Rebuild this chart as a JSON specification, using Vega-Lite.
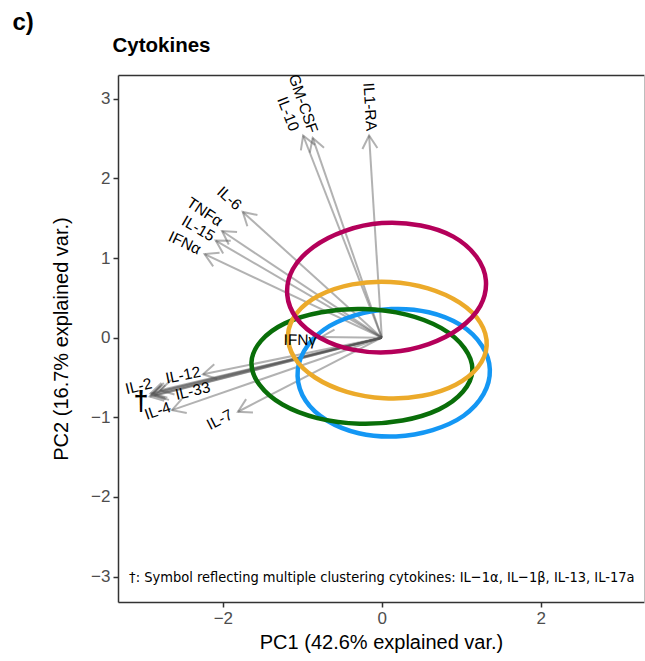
{
  "$schema": "https://vega.github.io/schema/vega-lite/v6.json",
  "width": 526,
  "height": 527,
  "autosize": {"type": "none"},
  "padding": {"left": 118, "top": 75, "right": 1, "bottom": 59},
  "config": {
    "view": {"stroke": null},
    "font": "Liberation Sans",
    "axis": {"grid": false}
  },
  "datasets": {
    "loadings": [
      {"var": "IL1-RA", "pc1": -0.16, "pc2": 2.54, "lx": -0.15, "ly": 2.90},
      {"var": "GM-CSF", "pc1": -0.87, "pc2": 2.51, "lx": -0.99, "ly": 2.94},
      {"var": "IL-10", "pc1": -0.99, "pc2": 2.54, "lx": -1.18, "ly": 2.81},
      {"var": "IL-6", "pc1": -1.75, "pc2": 1.58, "lx": -1.92, "ly": 1.75},
      {"var": "TNFα", "pc1": -2.01, "pc2": 1.34, "lx": -2.23, "ly": 1.58},
      {"var": "IL-15", "pc1": -2.09, "pc2": 1.22, "lx": -2.31, "ly": 1.37},
      {"var": "IFNα", "pc1": -2.23, "pc2": 1.05, "lx": -2.48, "ly": 1.19},
      {"var": "IFNγ", "pc1": -0.76, "pc2": 0.01, "lx": -1.03, "ly": -0.03},
      {"var": "IL-12", "pc1": -2.25, "pc2": -0.46, "lx": -2.50, "ly": -0.47},
      {"var": "IL-2", "pc1": -2.91, "pc2": -0.70, "lx": -3.06, "ly": -0.61},
      {"var": "IL-33", "pc1": -2.79, "pc2": -0.66, "lx": -2.38, "ly": -0.67},
      {"var": "IL-4", "pc1": -2.64, "pc2": -0.91, "lx": -2.82, "ly": -0.92},
      {"var": "IL-7", "pc1": -1.81, "pc2": -0.93, "lx": -2.04, "ly": -1.03},
      {"var": "IL-1α", "pc1": -2.90, "pc2": -0.72, "lx": null, "ly": null},
      {"var": "IL-1β", "pc1": -2.92, "pc2": -0.74, "lx": null, "ly": null},
      {"var": "IL-13", "pc1": -2.88, "pc2": -0.70, "lx": null, "ly": null},
      {"var": "IL-17a", "pc1": -2.86, "pc2": -0.73, "lx": null, "ly": null}
    ],
    "ellipses": [
      {"grp": "g1", "i": 0, "ex": 1.36, "ey": -0.40},
      {"grp": "g1", "i": 1, "ex": 1.26, "ey": -0.10},
      {"grp": "g1", "i": 2, "ex": 0.99, "ey": 0.16},
      {"grp": "g1", "i": 3, "ex": 0.59, "ey": 0.32},
      {"grp": "g1", "i": 4, "ex": 0.12, "ey": 0.36},
      {"grp": "g1", "i": 5, "ex": -0.34, "ey": 0.28},
      {"grp": "g1", "i": 6, "ex": -0.73, "ey": 0.10},
      {"grp": "g1", "i": 7, "ex": -0.98, "ey": -0.17},
      {"grp": "g1", "i": 8, "ex": -1.06, "ey": -0.48},
      {"grp": "g1", "i": 9, "ex": -0.96, "ey": -0.79},
      {"grp": "g1", "i": 10, "ex": -0.69, "ey": -1.04},
      {"grp": "g1", "i": 11, "ex": -0.29, "ey": -1.20},
      {"grp": "g1", "i": 12, "ex": 0.18, "ey": -1.24},
      {"grp": "g1", "i": 13, "ex": 0.64, "ey": -1.16},
      {"grp": "g1", "i": 14, "ex": 1.03, "ey": -0.98},
      {"grp": "g1", "i": 15, "ex": 1.28, "ey": -0.71},
      {"grp": "g2", "i": 0, "ex": 1.14, "ey": -0.41},
      {"grp": "g2", "i": 1, "ex": 1.04, "ey": -0.13},
      {"grp": "g2", "i": 2, "ex": 0.75, "ey": 0.12},
      {"grp": "g2", "i": 3, "ex": 0.31, "ey": 0.29},
      {"grp": "g2", "i": 4, "ex": -0.23, "ey": 0.36},
      {"grp": "g2", "i": 5, "ex": -0.76, "ey": 0.32},
      {"grp": "g2", "i": 6, "ex": -1.22, "ey": 0.18},
      {"grp": "g2", "i": 7, "ex": -1.52, "ey": -0.04},
      {"grp": "g2", "i": 8, "ex": -1.64, "ey": -0.31},
      {"grp": "g2", "i": 9, "ex": -1.54, "ey": -0.59},
      {"grp": "g2", "i": 10, "ex": -1.25, "ey": -0.84},
      {"grp": "g2", "i": 11, "ex": -0.81, "ey": -1.01},
      {"grp": "g2", "i": 12, "ex": -0.28, "ey": -1.08},
      {"grp": "g2", "i": 13, "ex": 0.26, "ey": -1.04},
      {"grp": "g2", "i": 14, "ex": 0.72, "ey": -0.90},
      {"grp": "g2", "i": 15, "ex": 1.02, "ey": -0.68},
      {"grp": "g3", "i": 0, "ex": 1.32, "ey": -0.10},
      {"grp": "g3", "i": 1, "ex": 1.24, "ey": 0.19},
      {"grp": "g3", "i": 2, "ex": 0.98, "ey": 0.44},
      {"grp": "g3", "i": 3, "ex": 0.58, "ey": 0.62},
      {"grp": "g3", "i": 4, "ex": 0.11, "ey": 0.70},
      {"grp": "g3", "i": 5, "ex": -0.37, "ey": 0.67},
      {"grp": "g3", "i": 6, "ex": -0.79, "ey": 0.53},
      {"grp": "g3", "i": 7, "ex": -1.07, "ey": 0.31},
      {"grp": "g3", "i": 8, "ex": -1.18, "ey": 0.04},
      {"grp": "g3", "i": 9, "ex": -1.10, "ey": -0.25},
      {"grp": "g3", "i": 10, "ex": -0.84, "ey": -0.50},
      {"grp": "g3", "i": 11, "ex": -0.44, "ey": -0.68},
      {"grp": "g3", "i": 12, "ex": 0.03, "ey": -0.76},
      {"grp": "g3", "i": 13, "ex": 0.51, "ey": -0.73},
      {"grp": "g3", "i": 14, "ex": 0.93, "ey": -0.59},
      {"grp": "g3", "i": 15, "ex": 1.21, "ey": -0.37},
      {"grp": "g4", "i": 0, "ex": 1.31, "ey": 0.72},
      {"grp": "g4", "i": 1, "ex": 1.19, "ey": 1.02},
      {"grp": "g4", "i": 2, "ex": 0.90, "ey": 1.27},
      {"grp": "g4", "i": 3, "ex": 0.49, "ey": 1.41},
      {"grp": "g4", "i": 4, "ex": 0.00, "ey": 1.44},
      {"grp": "g4", "i": 5, "ex": -0.47, "ey": 1.34},
      {"grp": "g4", "i": 6, "ex": -0.86, "ey": 1.14},
      {"grp": "g4", "i": 7, "ex": -1.12, "ey": 0.86},
      {"grp": "g4", "i": 8, "ex": -1.19, "ey": 0.54},
      {"grp": "g4", "i": 9, "ex": -1.07, "ey": 0.24},
      {"grp": "g4", "i": 10, "ex": -0.78, "ey": 0.00},
      {"grp": "g4", "i": 11, "ex": -0.37, "ey": -0.15},
      {"grp": "g4", "i": 12, "ex": 0.12, "ey": -0.18},
      {"grp": "g4", "i": 13, "ex": 0.59, "ey": -0.08},
      {"grp": "g4", "i": 14, "ex": 0.98, "ey": 0.12},
      {"grp": "g4", "i": 15, "ex": 1.24, "ey": 0.40}
    ]
  },
  "resolve": {"axis": {"x": "independent", "y": "independent"}},
  "layer": [
    {
      "data": {"name": "loadings"},
      "mark": {"type": "rule", "strokeWidth": 2, "color": "#555555", "opacity": 0.45},
      "encoding": {
        "x": {
          "field": "pc1", "type": "quantitative",
          "scale": {"domain": [-3.32, 3.3], "nice": false, "zero": false},
          "axis": {
            "orient": "bottom", "values": [-2, 0, 2],
            "title": "PC1 (42.6% explained var.)",
            "domainColor": "#333333", "domainWidth": 1.5,
            "tickColor": "#333333", "tickWidth": 1.5, "tickSize": 5,
            "labelFontSize": 17, "labelColor": "#4d4d4d", "labelPadding": 3,
            "titleFontSize": 20, "titleFontWeight": "normal", "titleColor": "#000000", "titlePadding": 6
          }
        },
        "y": {
          "field": "pc2", "type": "quantitative",
          "scale": {"domain": [-3.32, 3.3], "nice": false, "zero": false},
          "axis": {
            "orient": "left", "values": [-3, -2, -1, 0, 1, 2, 3],
            "title": "PC2 (16.7% explained var.)",
            "domainColor": "#333333", "domainWidth": 1.5,
            "tickColor": "#333333", "tickWidth": 1.5, "tickSize": 5,
            "labelFontSize": 17, "labelColor": "#4d4d4d", "labelPadding": 3,
            "titleFontSize": 20, "titleFontWeight": "normal", "titleColor": "#000000", "titlePadding": 19
          }
        },
        "x2": {"datum": 0},
        "y2": {"datum": 0}
      }
    },
    {
      "data": {"name": "loadings"},
      "transform": [{"calculate": "atan2(datum.pc1, datum.pc2) * 180 / PI", "as": "heading"}],
      "mark": {
        "type": "point", "shape": "M-0.577,1L0,0L0.577,1", "filled": false,
        "size": 676, "strokeWidth": 2, "color": "#555555", "opacity": 0.45
      },
      "encoding": {
        "x": {"field": "pc1", "type": "quantitative", "axis": null},
        "y": {"field": "pc2", "type": "quantitative", "axis": null},
        "angle": {"field": "heading", "type": "quantitative", "scale": null}
      }
    },
    {
      "data": {"name": "ellipses"},
      "mark": {"type": "line", "interpolate": "cardinal-closed", "strokeWidth": 4.5},
      "encoding": {
        "x": {
          "field": "ex", "type": "quantitative",
          "axis": {
            "orient": "top", "ticks": false, "labels": false,
            "domainColor": "#333333", "domainWidth": 1.5,
            "title": "Cytokines", "titleX": -6, "titleY": -24, "titleAngle": 0,
            "titleAlign": "left", "titleBaseline": "alphabetic",
            "titleFontSize": 20.5, "titleFontWeight": "bold", "titleColor": "#000000"
          }
        },
        "y": {
          "field": "ey", "type": "quantitative",
          "axis": {
            "orient": "right", "ticks": false, "labels": false,
            "domainColor": "#bdbdbd", "domainWidth": 1,
            "title": "c)", "titleX": -632, "titleY": -46, "titleAngle": 0,
            "titleAlign": "left", "titleBaseline": "alphabetic",
            "titleFontSize": 24, "titleFontWeight": "bold", "titleColor": "#000000"
          }
        },
        "order": {"field": "i", "type": "quantitative"},
        "color": {
          "field": "grp", "type": "nominal", "legend": null,
          "scale": {"domain": ["g1", "g2", "g3", "g4"], "range": ["#1497f4", "#096e09", "#ecaa2a", "#b4005a"]}
        }
      }
    },
    {
      "data": {"name": "loadings"},
      "transform": [
        {"filter": "isValid(datum.lx)"},
        {"calculate": "-atan(datum.pc2 / datum.pc1) * 180 / PI", "as": "tilt"}
      ],
      "mark": {"type": "text", "fontSize": 15.5, "align": "center", "baseline": "middle", "color": "#000000"},
      "encoding": {
        "x": {"field": "lx", "type": "quantitative", "axis": null},
        "y": {"field": "ly", "type": "quantitative", "axis": null},
        "text": {"field": "var"},
        "angle": {"field": "tilt", "type": "quantitative", "scale": null}
      }
    },
    {
      "data": {"values": [{"sym": "†", "sx": -3.03, "sy": -0.81}]},
      "mark": {"type": "text", "fontSize": 27, "fontWeight": "bold", "align": "center", "baseline": "middle", "color": "#000000"},
      "encoding": {
        "x": {"field": "sx", "type": "quantitative", "axis": null},
        "y": {"field": "sy", "type": "quantitative", "axis": null},
        "text": {"field": "sym"}
      }
    },
    {
      "data": {"values": [{"note": "†: Symbol reflecting multiple clustering cytokines: IL−1α, IL−1β, IL-13, IL-17a", "nx": 0, "ny": -3.02}]},
      "mark": {"type": "text", "font": "Liberation Sans Narrow, DejaVu Sans Condensed, Liberation Sans", "fontSize": 14.5, "align": "center", "baseline": "middle", "color": "#000000"},
      "encoding": {
        "x": {"field": "nx", "type": "quantitative", "axis": null},
        "y": {"field": "ny", "type": "quantitative", "axis": null},
        "text": {"field": "note"}
      }
    }
  ]
}
